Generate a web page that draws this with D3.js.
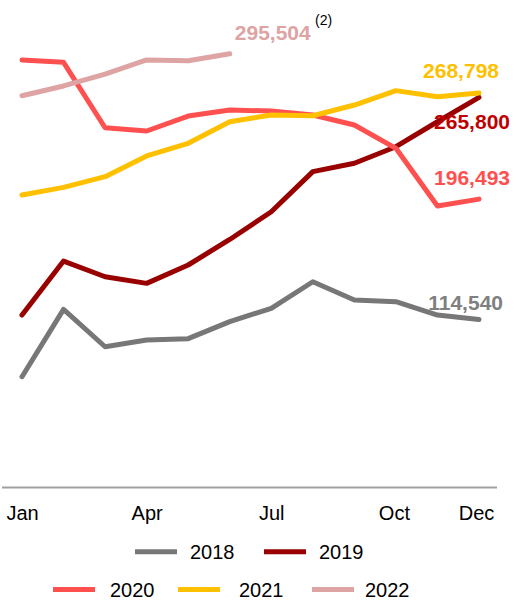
<!DOCTYPE html>
<html>
<head>
<meta charset="utf-8">
<script src="https://cdn.jsdelivr.net/npm/d3@7/dist/d3.min.js"></script>
<style>
  body { margin: 0; background: #fff; }
  text { font-family: Arial, "Liberation Sans", sans-serif; }
</style>
</head>
<body>
<div id="chart"></div>
<script>
var w = 516, h = 602

// data
var months = ["Jan","Feb","Mar","Apr","May","Jun","Jul","Aug","Sep","Oct","Nov","Dec"]
var tickMonths = ["Jan","Apr","Jul","Oct","Dec"]
var years = ["2018","2019","2020","2021","2022"]
var s2018 = [75500,121400,95900,100500,101400,113000,122100,140200,127800,126600,117500,114540]
var s2019 = [117500,154300,143600,139100,151600,169000,187900,215200,220900,232200,249200,265800]
var s2020 = [291300,289700,245100,242900,253100,257200,256500,253800,247000,231100,191800,196493]
var s2021 = [199300,204500,211800,225900,234500,249200,253800,253300,260600,270400,266300,268798]
var s2022 = [266900,273600,281700,291300,290800,295504]
var colors = ["#777777","#990000","#FF5050","#FFC000","#DEA3A3"]
var labelColors = ["#808080","#C00000","#FF5050","#FFC000","#DEA3A3"]

var series = [s2018, s2019, s2020, s2021, s2022]

var svg = d3.select("#chart")
.append("svg")
.attr("width", w)
.attr("height", h)

var x = d3.scalePoint().domain(months).range([22, 479])
var y = d3.scaleLinear().domain([0, 300000]).range([487.5, 47.2])

// baseline
svg.append("line")
.attr("x1", 2).attr("x2", 497)
.attr("y1", y(0)).attr("y2", y(0))
.attr("stroke", "#a0a0a0")
.attr("stroke-width", 2)

// month labels
var xAxis = d3.axisBottom(x).tickValues(tickMonths).tickSize(0).tickPadding(0)
var ax = svg.append("g")
.attr("transform", "translate(0," + (y(0) + 12.5) + ")")
.call(xAxis)
ax.select(".domain").remove()
ax.selectAll("text")
.attr("font-size", 20)
.attr("fill", "#000")
.attr("dy", "1em")
.attr("dx", function(d) { return d == "Dec" ? -3 : (d == "Oct" ? -2 : 0) })

var line = d3.line()
.x(function(d, i) { return x(months[i]) })
.y(function(d) { return y(d) })

series.forEach(function(s, k) {
	svg.append("path")
	.attr("d", line(s))
	.attr("fill", "none")
	.attr("stroke", colors[k])
	.attr("stroke-width", 5)
	.attr("stroke-linejoin", "round")
	.attr("stroke-linecap", "round")
})

// end labels
var fmt = d3.format(",")
function endLabel(k, dx, dy) {
	var s = series[k], i = s.length - 1
	return svg.append("text")
	.attr("x", x(months[i]) + dx)
	.attr("y", y(s[i]) + dy)
	.attr("text-anchor", "end")
	.attr("font-size", 21)
	.attr("font-weight", "bold")
	.attr("fill", labelColors[k])
	.text(fmt(s[i]))
}
endLabel(0, 24, -9)
endLabel(1, 31, 32)
endLabel(2, 31, -14)
endLabel(3, 20, -15)
endLabel(4, 81, -14)

svg.append("text")
.attr("x", 315).attr("y", 25)
.attr("font-size", 14)
.attr("fill", "#000")
.text("(2)")

// legend
var legendPos = [
	{lx: 135, ty: 551.7, tx: 190},
	{lx: 264, ty: 551.7, tx: 319},
	{lx: 53, ty: 589.5, tx: 110},
	{lx: 178, ty: 589.5, tx: 239},
	{lx: 312, ty: 589.5, tx: 365}
]
var lg = svg.selectAll(".leg").data(years).enter().append("g").attr("class", "leg")
lg.append("line")
.attr("x1", function(d, i) { return legendPos[i].lx })
.attr("x2", function(d, i) { return legendPos[i].lx + 42 })
.attr("y1", function(d, i) { return legendPos[i].ty })
.attr("y2", function(d, i) { return legendPos[i].ty })
.attr("stroke", function(d, i) { return colors[i] })
.attr("stroke-width", 5)
lg.append("text")
.attr("x", function(d, i) { return legendPos[i].tx })
.attr("y", function(d, i) { return legendPos[i].ty + 7.5 })
.attr("font-size", 20)
.attr("fill", "#000")
.text(function(d) { return d })
</script>
</body>
</html>
